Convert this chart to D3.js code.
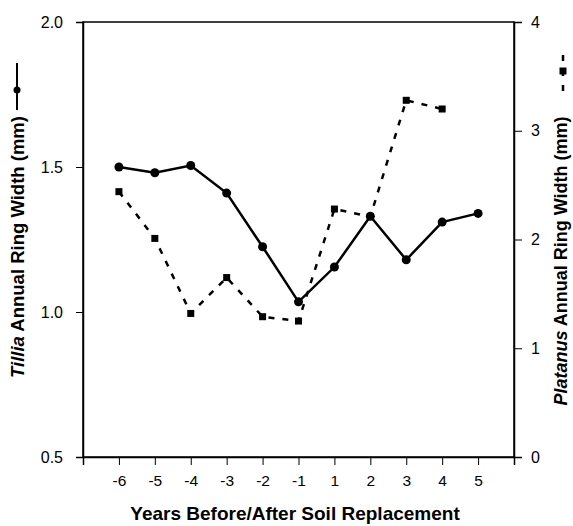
<!DOCTYPE html>
<html>
<head>
<meta charset="utf-8">
<script src="https://cdn.jsdelivr.net/npm/d3@7"></script>
<style>
    body { margin: 0; background: #fff; }
    text { font-family: "Liberation Sans", Arial, sans-serif; fill: #000; }
</style>
</head>
<body>
<svg id="chart"></svg>
<script>
// Data
var years = [-6, -5, -4, -3, -2, -1, 1, 2, 3, 4, 5];
var tilliaValues = [1.50, 1.48, 1.505, 1.41, 1.225, 1.035, 1.155, 1.33, 1.18, 1.31, 1.34];
var platanusValues = [2.44, 2.01, 1.32, 1.65, 1.29, 1.25, 2.28, 2.21, 3.28, 3.20];
var leftTicks = [0.5, 1.0, 1.5, 2.0];
var rightTicks = [0, 1, 2, 3, 4];

function drawChart() {
    var width = 573,
        height = 526,
        left = 83,
        right = 514,
        top = 22,
        bottom = 457;

    var svg = d3.select("#chart")
        .attr("width", width)
        .attr("height", height);

    // x positions are by index, with one empty slot on each side
    var x = d3.scaleLinear().domain([-1, years.length]).range([left, right]);
    var yLeft = d3.scaleLinear().domain([0.5, 2.0]).range([bottom, top]);
    var yRight = d3.scaleLinear().domain([0, 4]).range([bottom, top]);

    // Frame
    svg.append("rect")
        .attr("x", left).attr("y", top)
        .attr("width", right - left).attr("height", bottom - top)
        .attr("fill", "none").attr("stroke", "#000").attr("stroke-width", 1.5);

    // Bottom axis, ticks at every slot including the ends
    var xTickIdx = d3.range(-1, years.length + 1);
    var xAxis = d3.axisBottom(x)
        .tickValues(xTickIdx)
        .tickSize(8)
        .tickPadding(10)
        .tickFormat(function (d) {
            return (d >= 0 && d < years.length) ? years[d] : "";
        });
    var gx = svg.append("g")
        .attr("transform", "translate(0," + bottom + ")")
        .call(xAxis);

    var gl = svg.append("g")
        .attr("transform", "translate(" + left + ",0)")
        .call(d3.axisLeft(yLeft).tickValues(leftTicks).tickSize(7).tickPadding(13)
            .tickFormat(d3.format(".1f")));

    var gr = svg.append("g")
        .attr("transform", "translate(" + right + ",0)")
        .call(d3.axisRight(yRight).tickValues(rightTicks).tickSize(8).tickPadding(9)
            .tickFormat(d3.format("d")));

    [gx, gl, gr].forEach(function (g) {
        g.select(".domain").attr("stroke-width", 1.5);
        g.selectAll(".tick line").attr("stroke-width", 1);
        g.selectAll(".tick text").style("font-size", "16px").attr("fill", "#000");
    });
    gx.selectAll(".tick text").style("font-size", "15.5px");

    // Platanus dashed series
    var platLine = d3.line()
        .x(function (d, i) { return x(i); })
        .y(function (d) { return yRight(d); });
    svg.append("path")
        .datum(platanusValues)
        .attr("d", platLine)
        .attr("fill", "none")
        .attr("stroke", "#000")
        .attr("stroke-width", 2.5)
        .attr("stroke-dasharray", "6,8");
    svg.selectAll(".plat-pt")
        .data(platanusValues)
        .enter().append("rect")
        .attr("class", "plat-pt")
        .attr("x", function (d, i) { return x(i) - 3.5; })
        .attr("y", function (d) { return yRight(d) - 3.5; })
        .attr("width", 7).attr("height", 7)
        .attr("fill", "#000");

    // Tillia solid series
    var tilLine = d3.line()
        .x(function (d, i) { return x(i); })
        .y(function (d) { return yLeft(d); });
    svg.append("path")
        .datum(tilliaValues)
        .attr("d", tilLine)
        .attr("fill", "none")
        .attr("stroke", "#000")
        .attr("stroke-width", 2.5);
    svg.selectAll(".til-pt")
        .data(tilliaValues)
        .enter().append("circle")
        .attr("class", "til-pt")
        .attr("cx", function (d, i) { return x(i); })
        .attr("cy", function (d) { return yLeft(d); })
        .attr("r", 4.5)
        .attr("fill", "#000");

    // x title
    svg.append("text")
        .attr("x", 295).attr("y", 520)
        .attr("text-anchor", "middle")
        .style("font-size", "19px").style("font-weight", "bold")
        .text("Years Before/After Soil Replacement");

    // Left title with legend symbol
    var lt = svg.append("text")
        .attr("transform", "translate(24,247) rotate(-90)")
        .attr("text-anchor", "middle")
        .style("font-size", "18.5px").style("font-weight", "bold");
    lt.append("tspan").style("font-style", "italic").text("Tillia");
    lt.append("tspan").text(" Annual Ring Width (mm)");
    svg.append("line")
        .attr("x1", 17).attr("x2", 17).attr("y1", 63).attr("y2", 110)
        .attr("stroke", "#000").attr("stroke-width", 2);
    svg.append("circle").attr("cx", 17).attr("cy", 90).attr("r", 3.5).attr("fill", "#000");

    // Right title with legend symbol
    var rt = svg.append("text")
        .attr("transform", "translate(567,261) rotate(-90)")
        .attr("text-anchor", "middle")
        .style("font-size", "18px").style("font-weight", "bold");
    rt.append("tspan").style("font-style", "italic").text("Platanus");
    rt.append("tspan").text(" Annual Ring Width (mm)");
    svg.append("line")
        .attr("x1", 563).attr("x2", 563).attr("y1", 55).attr("y2", 91)
        .attr("stroke", "#000").attr("stroke-width", 2.5)
        .attr("stroke-dasharray", "6,9");
    svg.append("rect").attr("x", 559.5).attr("y", 67.5).attr("width", 7).attr("height", 7).attr("fill", "#000");
}

drawChart();
</script>
</body>
</html>
